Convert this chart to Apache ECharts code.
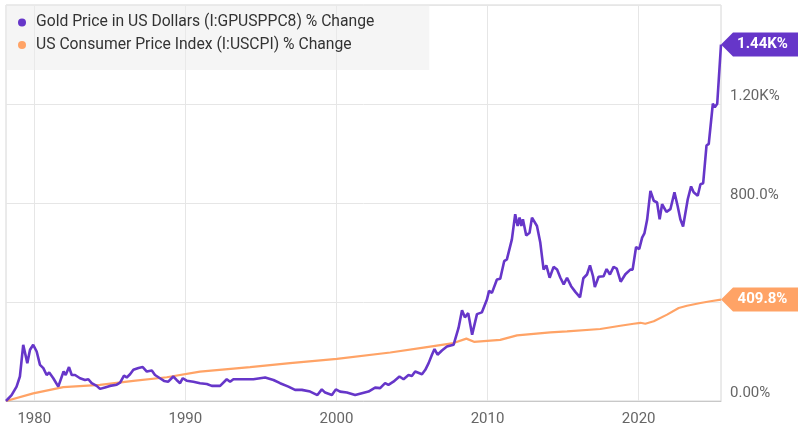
<!DOCTYPE html>
<html>
<head>
<meta charset="utf-8">
<script src="https://cdn.jsdelivr.net/npm/echarts@6/dist/echarts.min.js"></script>
<style>html,body{margin:0;padding:0;background:#fff}#c{width:810px;height:431px}</style>
</head>
<body>
<div id="c"></div>
<script>
var goldName = 'Gold Price in US Dollars (I:GPUSPPC8) % Change';
var cpiName = 'US Consumer Price Index (I:USCPI) % Change';
var xTicks = [1980, 1990, 2000, 2010, 2020];
var yVisibleLabels = [0, 800, 1200];

var goldYears = [1978.13,1978.5,1978.83,1979.05,1979.27,1979.54,1979.72,1979.93,1980.16,1980.38,1980.6,1980.82,1980.99,1981.26,1981.59,1981.7,1981.94,1982.08,1982.3,1982.48,1982.7,1983.03,1983.36,1983.58,1983.8,1984.13,1984.35,1984.68,1985.01,1985.46,1985.68,1985.94,1986.12,1986.34,1986.56,1986.9,1987.18,1987.45,1987.78,1987.99,1988.32,1988.59,1988.87,1989.2,1989.42,1989.65,1989.83,1990.09,1990.53,1990.97,1991.42,1991.75,1992.3,1992.74,1992.96,1993.18,1993.84,1994.5,1995.28,1995.83,1996.27,1996.82,1997.26,1997.71,1998.26,1998.74,1999.03,1999.25,1999.7,1999.96,2000.24,2000.69,2001.24,2001.68,2002.12,2002.56,2002.89,2003.22,2003.44,2003.77,2004.17,2004.44,2004.77,2004.99,2005.21,2005.66,2005.88,2006.1,2006.32,2006.49,2006.69,2006.98,2007.31,2007.75,2008.08,2008.31,2008.5,2008.72,2008.98,2009.3,2009.62,2009.96,2010.1,2010.29,2010.62,2010.84,2011.1,2011.28,2011.61,2011.83,2011.99,2012.12,2012.23,2012.34,2012.56,2012.78,2012.94,2013.27,2013.49,2013.71,2013.89,2014.11,2014.37,2014.6,2014.82,2015.04,2015.26,2015.53,2015.81,2016.12,2016.34,2016.58,2016.78,2016.98,2017.1,2017.35,2017.68,2017.88,2018.1,2018.34,2018.55,2018.81,2019.12,2019.45,2019.6,2019.83,2020.04,2020.23,2020.38,2020.56,2020.78,2021.0,2021.22,2021.39,2021.55,2021.84,2022.1,2022.37,2022.58,2022.76,2022.94,2023.25,2023.47,2023.64,2023.91,2024.09,2024.27,2024.49,2024.64,2024.91,2025.04,2025.2,2025.45];
var goldValues = [0,24,58,99,227,153,207,227,200,146,133,105,115,92,58,61,119,105,137,105,105,92,85,88,72,61,49,55,61,66,74,103,95,108,126,133,137,119,123,105,92,81,78,99,85,72,92,82,78,72,69,61,61,88,78,88,88,88,95,85,72,58,45,45,38,24,47,34,24,47,38,34,24,31,38,54,52,72,65,78,99,88,105,101,119,108,126,153,187,210,187,204,220,227,295,367,338,355,268,351,358,410,445,437,491,494,565,572,653,755,707,741,707,734,669,680,741,707,640,531,548,498,542,531,498,471,498,464,441,419,496,511,548,504,460,502,504,533,511,542,535,482,512,531,531,622,614,660,677,732,849,809,802,734,795,764,775,843,788,734,705,815,867,843,829,876,880,1032,1039,1201,1187,1201,1440];

var cpiYears = [1978.13,1979.93,1981.92,1984.35,1986.56,1988.77,1990.97,1993.18,1994.28,1996.93,2000.03,2003.56,2005.76,2007.75,2008.6,2009.1,2010.84,2011.95,2014.15,2015.26,2017.46,2018.79,2019.67,2020.12,2020.44,2021.0,2021.88,2022.65,2023.2,2024.09,2024.75,2025.45];
var cpiValues = [0,31,56,65,81,96,119,131,137,153,170,196,216,234,252,239,247,265,277,281,291,304,312,316,312,322,349,376,385,396,403,409.8];

function pct(v) {
  if (v === 0) return '0.00%';
  if (Math.abs(v) >= 1000) return (v / 1000).toFixed(2) + 'K%';
  return v.toFixed(1) + '%';
}
function pairs(xs, ys) { return xs.map(function (x, i) { return [x, ys[i]]; }); }

var goldColor = '#6636c9';
var cpiColor = '#ffa366';
var tagPath = 'path://M0,12L12,0L77,0L77,24L12,24Z';

function tag(xs, ys, color) {
  var n = xs.length - 1;
  return {
    silent: true,
    symbol: tagPath,
    symbolSize: [77, 24],
    symbolKeepAspect: false,
    symbolOffset: [38.5, 0],
    itemStyle: { color: color },
    label: {
      show: true, position: 'inside', offset: [3, 0],
      color: '#fff', fontFamily: 'Roboto', fontWeight: 'bold', fontSize: 15,
      formatter: function (p) { return pct(p.data.coord[1]); }
    },
    data: [{ coord: [xs[n], ys[n]] }]
  };
}

var chart = echarts.init(document.getElementById('c'), null, { renderer: 'canvas' });
chart.setOption({
  animation: false,
  backgroundColor: '#fff',
  textStyle: { fontFamily: 'Roboto' },
  grid: { left: 6, right: 89, top: 5, bottom: 30, show: true, borderColor: '#d6d6d6', borderWidth: 1 },
  legend: {
    orient: 'vertical', left: 6, top: 5,
    padding: [9.5, 55, 17, 12],
    itemWidth: 18, itemHeight: 8, itemGap: 6.5,
    icon: 'circle',
    backgroundColor: 'rgba(236,236,236,0.5)',
    textStyle: { color: '#333', fontSize: 15.7, lineHeight: 15, fontFamily: 'Roboto' },
    data: [goldName, cpiName]
  },
  xAxis: {
    type: 'value', min: goldYears[0], max: goldYears[goldYears.length - 1],
    axisLine: { show: true, lineStyle: { color: '#c8c8c8', width: 1 } },
    axisTick: { show: false, customValues: xTicks },
    axisLabel: { customValues: xTicks, color: '#666', fontSize: 15, margin: 11, fontFamily: 'Roboto', formatter: function (v) { return String(v); } },
    splitLine: { show: true, lineStyle: { color: '#e6e6e6' } }
  },
  yAxis: {
    type: 'value', position: 'right', min: 0, max: 1600, interval: 400,
    axisLine: { show: false }, axisTick: { show: false },
    axisLabel: {
      color: '#666', fontSize: 15, margin: 9, verticalAlign: 'bottom', showMaxLabel: false, fontFamily: 'Roboto',
      formatter: function (v) { return yVisibleLabels.indexOf(v) >= 0 ? pct(v) : ''; }
    },
    splitLine: { show: true, lineStyle: { color: '#e6e6e6' } }
  },
  series: [
    {
      name: cpiName, type: 'line', showSymbol: false, symbol: 'none',
      data: pairs(cpiYears, cpiValues),
      lineStyle: { color: cpiColor, width: 2.2 }, itemStyle: { color: cpiColor },
      emphasis: { disabled: true }, z: 2,
      markPoint: tag(cpiYears, cpiValues, cpiColor)
    },
    {
      name: goldName, type: 'line', showSymbol: false, symbol: 'none',
      data: pairs(goldYears, goldValues),
      lineStyle: { color: goldColor, width: 2.6 }, itemStyle: { color: goldColor },
      emphasis: { disabled: true }, z: 3,
      markPoint: tag(goldYears, goldValues, goldColor)
    }
  ]
});
</script>
</body>
</html>
